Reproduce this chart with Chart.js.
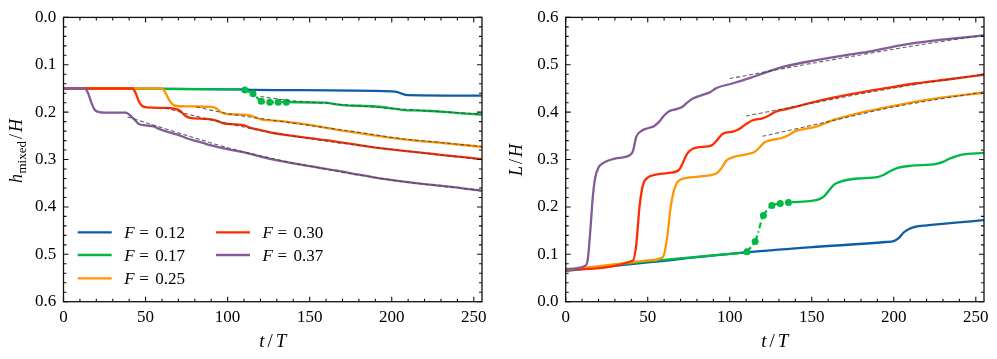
<!DOCTYPE html>
<html>
<head>
<meta charset="utf-8">
<script src="https://cdn.jsdelivr.net/npm/chart.js@4.4.1/dist/chart.umd.min.js"></script>
<style>
html,body{margin:0;padding:0;background:#fff;}
#wrap{position:relative;width:997px;height:359px;}
#left{position:absolute;left:0;top:0;}
#right{position:absolute;left:500px;top:0;}
</style>
</head>
<body>
<div id="wrap">
<canvas id="left" width="500" height="359"></canvas>
<canvas id="right" width="497" height="359"></canvas>
</div>
<script>
/* DATA */
const fLabels = ["0.12","0.17","0.25","0.30","0.37"];
const colors = ["#0C5DA5","#00B945","#FF9500","#FF2C00","#845B97"];
const xTicks = [0,50,100,150,200,250];
const yTicks = [0,0.1,0.2,0.3,0.4,0.5,0.6];

/* left panel: h_mixed/H */
const tBlueH = [0,107,117,200,203,206,210,255];
const hBlue = [0.150,0.152,0.153,0.156,0.157,0.161,0.164,0.165];
const tGreenH = [0,107,122,137,160,165,170,190,200,206,220,234,245,255];
const hGreen = [0.150,0.152,null,0.179,0.180,0.183,0.185,0.188,0.192,0.195,0.197,0.200,0.203,0.205];
const tOrangeH = [0,60,62,64,66,69,80,90,93,96,100,108,113,117,121,125,135,150,166,185,206,230,255];
const hOrange = [0.150,0.150,0.158,0.172,0.182,0.187,0.188,0.189,0.192,0.200,0.204,0.205,0.206,0.211,0.216,0.217,0.220,0.227,0.237,0.247,0.257,0.265,0.273];
const tRedH = [0,42,44,46,48,51,60,68,71,74,77,85,90,94,97,105,110,114,120,125,135,150,166,185,206,230,255];
const hRed = [0.150,0.150,0.160,0.178,0.187,0.190,0.191,0.193,0.197,0.207,0.212,0.214,0.215,0.219,0.223,0.226,0.228,0.233,0.238,0.242,0.248,0.255,0.262,0.272,0.281,0.290,0.299];
const tPurpleH = [0,13,15,17,19,22,25,38,40,43,46,50,55,58,62,70,75,80,85,90,100,110,125,140,150,166,180,190,206,220,235,255];
const hPurple = [0.150,0.150,0.160,0.180,0.195,0.200,0.201,0.201,0.205,0.215,0.225,0.228,0.230,0.235,0.240,0.248,0.255,0.260,0.265,0.270,0.278,0.285,0.298,0.308,0.314,0.323,0.332,0.338,0.346,0.352,0.357,0.366];
const tDots = [110.5,115.5,120.5,125.7,130.8,135.8];
const hDots = [0.153,0.161,0.177,0.179,0.179,0.179];
/* dashed fits, left */
const tFitGreenH = [120,140,170,200,230,255];
const hFitGreen = [0.167,0.176,0.184,0.192,0.199,0.204];
const tFitOrangeH = [81,100,125,150,175,206,230,255];
const hFitOrange = [0.189,0.203,0.216,0.228,0.240,0.256,0.264,0.273];
const tFitRedH = [62,80,100,125,150,175,206,230,255];
const hFitRed = [0.191,0.208,0.224,0.242,0.256,0.268,0.281,0.291,0.300];
const tFitPurpleH = [39,50,75,100,125,150,175,206,230,255];
const hFitPurple = [0.210,0.222,0.249,0.275,0.296,0.314,0.330,0.346,0.356,0.365];

/* right panel: L/H */
const tBlueL = [0,50,110,150,195,200,203,206,209,213,220,255];
const lBlue = [0.065,0.083,0.104,0.115,0.126,0.128,0.134,0.146,0.153,0.158,0.161,0.172];
const tGreenL = [0,50,107,122,138,150,155,158,161,164,168,178,190,194,198,203,211,226,230,234,241,255];
const lGreen = [0.066,0.085,0.103,null,0.210,0.213,0.217,0.224,0.237,0.248,0.254,0.260,0.263,0.268,0.276,0.283,0.287,0.291,0.295,0.302,0.310,0.314];
const tOrangeL = [0,50,58,60,62,64,66,68,71,81,92,95,98,102,110,115,118,121,125,132,136,140,145,152,157,162,170,184,204,224,255];
const lOrange = [0.067,0.087,0.092,0.100,0.140,0.200,0.235,0.252,0.259,0.264,0.271,0.282,0.298,0.305,0.311,0.316,0.325,0.336,0.341,0.346,0.352,0.360,0.364,0.369,0.375,0.382,0.390,0.402,0.416,0.428,0.441];
const tRedL = [0,41,43,45,47,50,55,61,69,71,74,77,81,89,92,96,102,106,110,114,120,124,128,135,143,153,174,194,214,235,255];
const lRed = [0.068,0.087,0.120,0.200,0.245,0.262,0.268,0.271,0.278,0.290,0.312,0.322,0.326,0.330,0.340,0.355,0.359,0.365,0.375,0.383,0.387,0.393,0.401,0.407,0.414,0.423,0.438,0.450,0.461,0.470,0.479];
const tPurpleL = [0,12,13.5,15,16.5,18,20,23,30,39,41,43,46,50,54,57,60,63,68,71,74,77,83,88,92,102,112,122,133,153,170,184,204,224,255];
const lPurple = [0.069,0.076,0.090,0.150,0.220,0.262,0.283,0.293,0.302,0.309,0.318,0.348,0.360,0.366,0.371,0.380,0.393,0.402,0.407,0.411,0.420,0.428,0.436,0.442,0.451,0.461,0.472,0.484,0.496,0.510,0.520,0.527,0.541,0.551,0.562];
const lDots = [0.1055,0.127,0.182,0.203,0.207,0.2096];
/* dashed fits, right */
const tFitOrangeL = [120,160,200,255];
const lFitOrange = [0.349,0.380,0.411,0.443];
const tFitRedL = [110,150,200,255];
const lFitRed = [0.392,0.419,0.451,0.480];
const tFitPurpleL = [100,125,150,175,200,225,255];
const lFitPurple = [0.471,0.487,0.503,0.518,0.533,0.547,0.562];

const serif = '"Liberation Serif", "DejaVu Serif", serif';

function pts(t, v){ return t.map((x,i)=>({x:x, y:v[i]})); }

function line(t, v, i){
return {data:pts(t,v), borderColor:colors[i], borderWidth:2.3, pointRadius:0,
cubicInterpolationMode:'monotone', spanGaps:false, order:5-i};
}
function fit(t, v){
return {data:pts(t,v), borderColor:'rgba(70,70,70,0.85)', borderWidth:1.1, pointRadius:0,
borderDash:[4,2.5], tension:0.3, order:0};
}
function dots(v){
return {data:pts(tDots,v), borderColor:colors[1], backgroundColor:colors[1], borderWidth:2.2,
borderDash:[6,3,1.5,3], pointRadius:3.5, pointBorderWidth:0, tension:0.3, order:4};
}

/* draw a row of text pieces (mixed fonts) centered at cx, baseline y */
function drawParts(ctx, parts, cx, y){
let w = 0;
parts.forEach(p=>{ ctx.font = p.f; p.w = p.t ? ctx.measureText(p.t).width : 0; w += p.w + (p.gap||0); });
let x = cx - w/2;
ctx.textAlign = 'left'; ctx.textBaseline = 'alphabetic';
parts.forEach(p=>{ ctx.font = p.f; if(p.t) ctx.fillText(p.t, x, y + (p.dy||0)); x += p.w + (p.gap||0); });
}

const it = s=>'italic '+s+'px '+serif;
const up = s=>s+'px '+serif;

/* FRAME, INWARD TICKS, TITLES, LEGEND */
const frame = {
id:'frame',
afterDraw(chart, args, o){
const {ctx, chartArea:a, scales:{x, y}} = chart;
ctx.save();
ctx.strokeStyle = '#111'; ctx.lineWidth = 1.3;
ctx.strokeRect(a.left, a.top, a.right-a.left, a.bottom-a.top);
ctx.lineWidth = 1.1;
ctx.beginPath();
for(let t=0; t<=250; t+=10){
let px = x.getPixelForValue(t), len = t%50===0 ? 5 : 3;
ctx.moveTo(px, a.bottom); ctx.lineTo(px, a.bottom-len);
ctx.moveTo(px, a.top); ctx.lineTo(px, a.top+len);
}
for(let k=0; k<=30; k++){
let py = y.getPixelForValue(k*0.02), len = k%5===0 ? 5 : 3;
ctx.moveTo(a.left, py); ctx.lineTo(a.left+len, py);
ctx.moveTo(a.right, py); ctx.lineTo(a.right-len, py);
}
ctx.stroke();

ctx.fillStyle = '#000';
// x title  t/T
drawParts(ctx, [{t:'t',f:it(19),gap:3},{t:'/',f:up(19),gap:3},{t:'T',f:it(19)}], (a.left+a.right)/2, 347);
// y title (rotated)
ctx.save();
ctx.translate(0, o.ymid);
ctx.rotate(-Math.PI/2);
drawParts(ctx, o.ytitle, 0, 21.5);
ctx.restore();

// legend
if(o.legend){
const rows = [232.3, 255, 278.3];
fLabels.forEach((f,i)=>{
let col = i<3 ? 0 : 1, r = i<3 ? i : i-3;
let hx = col ? 216 : 77.7, ry = rows[r];
ctx.strokeStyle = colors[i]; ctx.lineWidth = 2.3;
ctx.beginPath(); ctx.moveTo(hx, ry); ctx.lineTo(hx+34, ry); ctx.stroke();
ctx.fillStyle = '#000';
ctx.font = it(17); ctx.textAlign = 'left'; ctx.textBaseline = 'alphabetic';
let tx = hx + 46.5;
ctx.fillText('F', tx, ry+6);
ctx.font = up(17);
ctx.fillText('=', tx+15, ry+6);
ctx.fillText(f, tx+31, ry+6);
});
}
ctx.restore();
}
};

function makeOpts(reverse, yw, padRight, extra){
return {
responsive:false, animation:false, devicePixelRatio:1,
layout:{padding:{top:13.3, right:padRight, bottom:0, left:0}},
plugins:{legend:{display:false}, tooltip:{enabled:false}, frame:extra},
scales:{
x:{type:'linear', min:0, max:255,
afterBuildTicks:s=>{ s.ticks = xTicks.map(v=>({value:v})); },
afterFit:s=>{ s.height = 57.3; },
grid:{display:false, drawTicks:false}, border:{display:false},
ticks:{padding:6, color:'#000', font:{family:serif, size:17}, callback:v=>String(v)}},
y:{type:'linear', min:0, max:0.6, reverse:reverse,
afterBuildTicks:s=>{ s.ticks = yTicks.map(v=>({value:v})); },
afterFit:s=>{ s.width = yw; },
grid:{display:false, drawTicks:false}, border:{display:false},
ticks:{padding:7.2, color:'#000', font:{family:serif, size:17}, callback:v=>v.toFixed(1)}}
}
};
}

new Chart(document.getElementById('left'), {
type:'line',
data:{datasets:[
line(tBlueH,hBlue,0), line(tGreenH,hGreen,1), dots(hDots), line(tOrangeH,hOrange,2),
line(tRedH,hRed,3), line(tPurpleH,hPurple,4),
fit(tFitGreenH,hFitGreen), fit(tFitOrangeH,hFitOrange), fit(tFitRedH,hFitRed), fit(tFitPurpleH,hFitPurple)
]},
options:makeOpts(true, 63.5, 18, {legend:true, ymid:151, ytitle:[
{t:'h',f:it(18),gap:0.5},{t:'mixed',f:up(13),dy:4,gap:2},{t:'/',f:up(18),gap:2},{t:'H',f:it(18)}]}),
plugins:[frame]
});

new Chart(document.getElementById('right'), {
type:'line',
data:{datasets:[
line(tBlueL,lBlue,0), line(tGreenL,lGreen,1), dots(lDots), line(tOrangeL,lOrange,2),
line(tRedL,lRed,3), line(tPurpleL,lPurple,4),
fit(tFitOrangeL,lFitOrange), fit(tFitRedL,lFitRed), fit(tFitPurpleL,lFitPurple)
]},
options:makeOpts(false, 65.7, 13, {legend:false, ymid:160, ytitle:[
{t:'L',f:it(18),gap:2},{t:'/',f:up(18),gap:2},{t:'H',f:it(18)}]}),
plugins:[frame]
});
</script>
</body>
</html>
